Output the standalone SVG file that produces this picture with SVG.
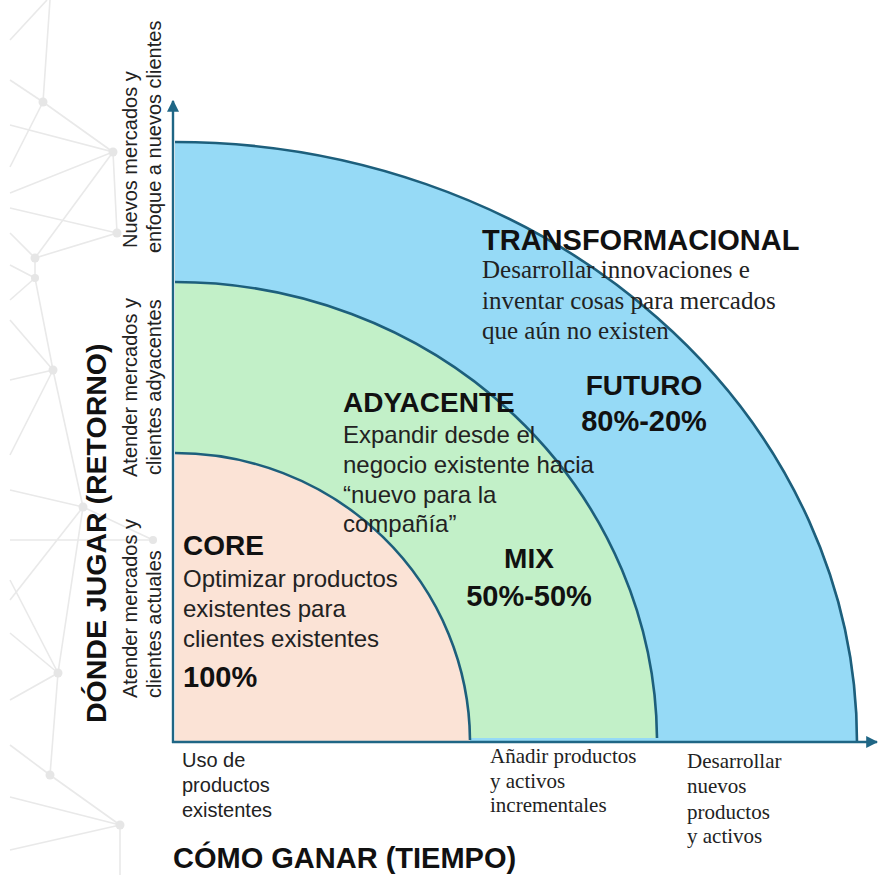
<svg xmlns="http://www.w3.org/2000/svg" width="879" height="875" viewBox="0 0 879 875">
  <style>
    .net { stroke: #e9e9e9; stroke-width: 1.6; fill: none; }
    .dot { fill: #e6e6e6; }
    .arc { fill: none; stroke: #1D5F7C; stroke-width: 2.6; }
    .axis { stroke: #1F6685; stroke-width: 2.4; fill: none; }
    .sans { font-family: "Liberation Sans", Arial, sans-serif; fill: #222; }
    .serif { font-family: "Liberation Serif", "Times New Roman", serif; fill: #222; }
    .title { font-family: "Liberation Sans", Arial, sans-serif; font-weight: bold; fill: #111; }
  </style>
  <defs>
    <marker id="arrow" viewBox="0 0 10 10" refX="9" refY="5" markerWidth="5" markerHeight="5" orient="auto" markerUnits="strokeWidth">
      <path d="M0,0 L10,5 L0,10 Z" fill="#1F6685"/>
    </marker>
  </defs>
  <rect width="879" height="875" fill="#ffffff"/>

  <!-- background network decoration -->
  <g id="background">
    <g class="net">
      <path d="M50,0 L43,102 M10,80 L43,102 L113,152 M10,125 L113,152 L10,193 M43,102 L10,167 M113,152 L35,258 M10,208 L117,233 L35,258 L10,233 M113,152 L117,233 M35,258 L35,278 L10,300 M35,278 L10,265 M10,40 L47,0"/>
      <path d="M10,320 L53,370 L10,380 M53,370 L10,455 M53,370 L83,507 L10,490 M83,507 L153,540 M10,540 L153,540 M83,507 L10,600 M35,278 L53,370"/>
      <path d="M10,633 L58,673 L10,700 M58,673 L50,775 L120,825 L10,797 M50,775 L10,745 M120,825 L120,875 M10,850 L120,825 M58,673 L10,580 M83,507 L58,673"/>
    </g>
    <circle class="dot" cx="43" cy="102" r="4.5"/>
    <circle class="dot" cx="113" cy="152" r="4.5"/>
    <circle class="dot" cx="117" cy="233" r="4.5"/>
    <circle class="dot" cx="35" cy="258" r="4.5"/>
    <circle class="dot" cx="35" cy="278" r="4"/>
    <circle class="dot" cx="53" cy="370" r="4.5"/>
    <circle class="dot" cx="83" cy="507" r="4.5"/>
    <circle class="dot" cx="153" cy="540" r="4"/>
    <circle class="dot" cx="58" cy="673" r="4.5"/>
    <circle class="dot" cx="50" cy="775" r="4.5"/>
    <circle class="dot" cx="120" cy="825" r="4.5"/>
  </g>

  <!-- region shapes -->
  <g id="transformacional">
    <path d="M175,742 V142 A682,600 0 0 1 858,742 Z" fill="#96DAF6"/>
    <path class="arc" d="M175,142 A682,600 0 0 1 857,742"/>
  </g>
  <g id="adyacente">
    <path d="M175,738 V282 A482,460 0 0 1 657,738 Z" fill="#C2F0C8"/>
    <path class="arc" d="M175,282 A482,460 0 0 1 657,738"/>
  </g>
  <g id="core">
    <path d="M175,742 V453 A295,289 0 0 1 470,742 Z" fill="#FBE3D6"/>
    <path class="arc" d="M175,453 A295,289 0 0 1 470,740"/>
  </g>

  <!-- region labels -->
  <g id="transformacional-label">
    <text class="title" x="482" y="250" font-size="29">TRANSFORMACIONAL</text>
    <text class="serif" font-size="25">
      <tspan x="482" y="278">Desarrollar innovaciones e</tspan>
      <tspan x="482" y="309">inventar cosas para mercados</tspan>
      <tspan x="482" y="339">que aún no existen</tspan>
    </text>
    <text class="title" x="644" y="395" font-size="28" text-anchor="middle">FUTURO</text>
    <text class="title" x="644" y="431" font-size="29" text-anchor="middle">80%-20%</text>
  </g>
  <g id="adyacente-label">
    <text class="title" x="343" y="412" font-size="28">ADYACENTE</text>
    <text class="sans" font-size="24">
      <tspan x="343" y="443">Expandir desde el</tspan>
      <tspan x="343" y="473">negocio existente hacia</tspan>
      <tspan x="343" y="503">“nuevo para la</tspan>
      <tspan x="343" y="532">compañía”</tspan>
    </text>
    <text class="title" x="529" y="568" font-size="28" text-anchor="middle">MIX</text>
    <text class="title" x="529" y="606" font-size="29" text-anchor="middle">50%-50%</text>
  </g>
  <g id="core-label">
    <text class="title" x="183" y="555" font-size="28">CORE</text>
    <text class="sans" font-size="24">
      <tspan x="183" y="587">Optimizar productos</tspan>
      <tspan x="183" y="617">existentes para</tspan>
      <tspan x="183" y="647">clientes existentes</tspan>
    </text>
    <text class="title" x="183" y="687" font-size="29">100%</text>
  </g>

  <!-- axes (connectors) -->
  <g id="axes">
    <path class="axis" d="M173,743 V101" marker-end="url(#arrow)"/>
    <path class="axis" d="M172,742 H877" marker-end="url(#arrow)"/>
  </g>

  <!-- vertical axis labels -->
  <g id="y-labels">
    <g transform="translate(137,248) rotate(-90)">
      <text class="sans" font-size="20"><tspan x="0" y="0">Nuevos mercados y</tspan><tspan x="-5" y="24">enfoque a nuevos clientes</tspan></text>
    </g>
    <g transform="translate(137,477) rotate(-90)">
      <text class="sans" font-size="20"><tspan x="0" y="0">Atender mercados y</tspan><tspan x="2" y="24">clientes adyacentes</tspan></text>
    </g>
    <g transform="translate(137,698) rotate(-90)">
      <text class="sans" font-size="20"><tspan x="0" y="0">Atender mercados y</tspan><tspan x="0" y="24">clientes actuales</tspan></text>
    </g>
    <g transform="translate(106,723) rotate(-90)">
      <text class="title" font-size="28.5" x="0" y="0">DÓNDE JUGAR (RETORNO)</text>
    </g>
  </g>

  <!-- horizontal axis labels -->
  <g id="x-labels">
    <text class="sans" font-size="20">
      <tspan x="182" y="767">Uso de</tspan>
      <tspan x="182" y="792">productos</tspan>
      <tspan x="182" y="817">existentes</tspan>
    </text>
    <text class="serif" font-size="21">
      <tspan x="490" y="763">Añadir productos</tspan>
      <tspan x="490" y="788">y activos</tspan>
      <tspan x="490" y="812">incrementales</tspan>
    </text>
    <text class="serif" font-size="21">
      <tspan x="687" y="768">Desarrollar</tspan>
      <tspan x="687" y="793">nuevos</tspan>
      <tspan x="687" y="819">productos</tspan>
      <tspan x="687" y="843">y activos</tspan>
    </text>
    <text class="title" x="173" y="868" font-size="29">CÓMO GANAR (TIEMPO)</text>
  </g>
</svg>
